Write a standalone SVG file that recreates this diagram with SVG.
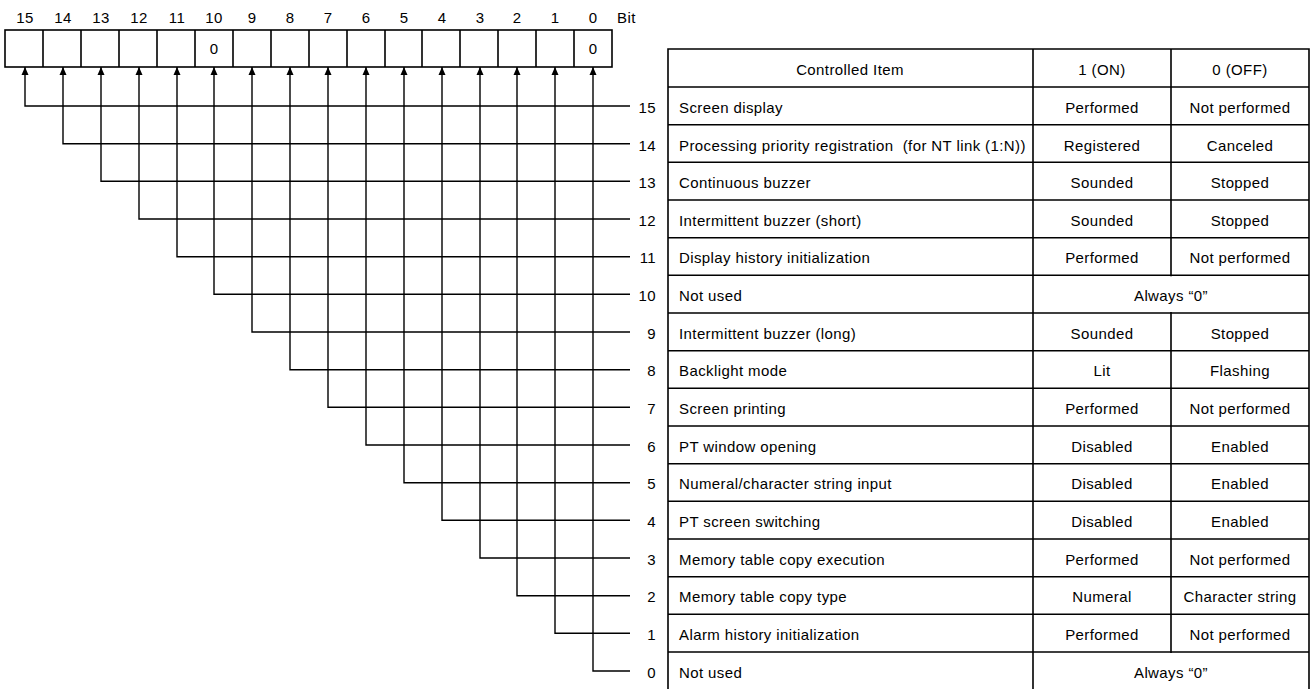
<svg xmlns="http://www.w3.org/2000/svg" width="1313" height="689" viewBox="0 0 1313 689">
<defs>
<style>
text{font-family:"Liberation Sans",Arial,sans-serif;font-size:15px;letter-spacing:0.4px;fill:#000}
.c{text-anchor:middle}
.r{text-anchor:end}
.ln{stroke:#000;stroke-width:1.4;fill:none}
.tb{stroke:#000;stroke-width:1.6;fill:none}
</style>
<marker id="ah" viewBox="0 0 8 10" refX="8" refY="5" markerWidth="8" markerHeight="10" markerUnits="userSpaceOnUse" orient="auto">
<path d="M0,1.5 L8,5 L0,8.5 Z" fill="#000"/>
</marker>
</defs>
<rect width="1313" height="689" fill="#fff"/>
<g id="register">
<rect x="5" y="30" width="607" height="37" class="tb"/>
<path class="tb" d="M43,30V67M81,30V67M119,30V67M157,30V67M195,30V67M233,30V67M271,30V67M309,30V67M347,30V67M385,30V67M422,30V67M460,30V67M498,30V67M536,30V67M574,30V67"/>
<text x="214" y="54" class="c">0</text>
<text x="593" y="54" class="c">0</text>
<g class="c">
<text x="25" y="22.5">15</text><text x="63" y="22.5">14</text><text x="101" y="22.5">13</text><text x="139" y="22.5">12</text>
<text x="177" y="22.5">11</text><text x="214" y="22.5">10</text><text x="252" y="22.5">9</text><text x="290" y="22.5">8</text>
<text x="328" y="22.5">7</text><text x="366" y="22.5">6</text><text x="404" y="22.5">5</text><text x="442" y="22.5">4</text>
<text x="480" y="22.5">3</text><text x="517" y="22.5">2</text><text x="555" y="22.5">1</text><text x="593" y="22.5">0</text>
</g>
<text x="617" y="22.5">Bit</text>
</g>
<g id="connectors">
<path class="ln" marker-end="url(#ah)" d="M630,106H25V67"/>
<path class="ln" marker-end="url(#ah)" d="M630,143.7H63V67"/>
<path class="ln" marker-end="url(#ah)" d="M630,181.3H101V67"/>
<path class="ln" marker-end="url(#ah)" d="M630,219H139V67"/>
<path class="ln" marker-end="url(#ah)" d="M630,256.7H177V67"/>
<path class="ln" marker-end="url(#ah)" d="M630,294.3H214V67"/>
<path class="ln" marker-end="url(#ah)" d="M630,332H252V67"/>
<path class="ln" marker-end="url(#ah)" d="M630,369.7H290V67"/>
<path class="ln" marker-end="url(#ah)" d="M630,407.3H328V67"/>
<path class="ln" marker-end="url(#ah)" d="M630,445H366V67"/>
<path class="ln" marker-end="url(#ah)" d="M630,482.7H404V67"/>
<path class="ln" marker-end="url(#ah)" d="M630,520.3H442V67"/>
<path class="ln" marker-end="url(#ah)" d="M630,558H480V67"/>
<path class="ln" marker-end="url(#ah)" d="M630,595.7H517V67"/>
<path class="ln" marker-end="url(#ah)" d="M630,633.3H555V67"/>
<path class="ln" marker-end="url(#ah)" d="M630,671H593V67"/>
</g>
<g id="table">
<path class="tb" d="M668,689V49H1309V689M1033,49V689M1171,49V689"/>
<path class="tb" d="M668,87H1309M668,124.7H1309M668,162.3H1309M668,200H1309M668,237.7H1309M668,275.3H1309M668,313H1309M668,350.7H1309M668,388.3H1309M668,426H1309M668,463.7H1309M668,501.3H1309M668,539H1309M668,576.7H1309M668,614.3H1309M668,652H1309"/>
<rect x="1034" y="276.3" width="274" height="35.7" fill="#fff"/>
<rect x="1034" y="653" width="274" height="36" fill="#fff"/>
<text x="850" y="74.5" class="c">Controlled Item</text>
<text x="1102" y="74.5" class="c">1 (ON)</text>
<text x="1240" y="74.5" class="c">0 (OFF)</text>
</g>
<g id="labels" class="r">
<text x="656" y="112.5">15</text><text x="656" y="150.7">14</text><text x="656" y="187.8">13</text><text x="656" y="225.5">12</text>
<text x="656" y="263.2">11</text><text x="656" y="300.8">10</text><text x="656" y="338.5">9</text><text x="656" y="376.2">8</text>
<text x="656" y="413.8">7</text><text x="656" y="451.5">6</text><text x="656" y="489.2">5</text><text x="656" y="526.8">4</text>
<text x="656" y="564.5">3</text><text x="656" y="602.2">2</text><text x="656" y="639.8">1</text><text x="656" y="677.5">0</text>
</g>
<g id="items">
<text x="679" y="112.5">Screen display</text>
<text x="679" y="150.7">Processing priority registration &#160;(for NT link (1:N))</text>
<text x="679" y="187.8">Continuous buzzer</text>
<text x="679" y="225.5">Intermittent buzzer (short)</text>
<text x="679" y="263.2">Display history initialization</text>
<text x="679" y="300.8">Not used</text>
<text x="679" y="338.5">Intermittent buzzer (long)</text>
<text x="679" y="376.2">Backlight mode</text>
<text x="679" y="413.8">Screen printing</text>
<text x="679" y="451.5">PT window opening</text>
<text x="679" y="489.2">Numeral/character string input</text>
<text x="679" y="526.8">PT screen switching</text>
<text x="679" y="564.5">Memory table copy execution</text>
<text x="679" y="602.2">Memory table copy type</text>
<text x="679" y="639.8">Alarm history initialization</text>
<text x="679" y="677.5">Not used</text>
</g>
<g id="on" class="c">
<text x="1102" y="112.5">Performed</text>
<text x="1102" y="150.7">Registered</text>
<text x="1102" y="187.8">Sounded</text>
<text x="1102" y="225.5">Sounded</text>
<text x="1102" y="263.2">Performed</text>
<text x="1102" y="338.5">Sounded</text>
<text x="1102" y="376.2">Lit</text>
<text x="1102" y="413.8">Performed</text>
<text x="1102" y="451.5">Disabled</text>
<text x="1102" y="489.2">Disabled</text>
<text x="1102" y="526.8">Disabled</text>
<text x="1102" y="564.5">Performed</text>
<text x="1102" y="602.2">Numeral</text>
<text x="1102" y="639.8">Performed</text>
</g>
<g id="off" class="c">
<text x="1240" y="112.5">Not performed</text>
<text x="1240" y="150.7">Canceled</text>
<text x="1240" y="187.8">Stopped</text>
<text x="1240" y="225.5">Stopped</text>
<text x="1240" y="263.2">Not performed</text>
<text x="1240" y="338.5">Stopped</text>
<text x="1240" y="376.2">Flashing</text>
<text x="1240" y="413.8">Not performed</text>
<text x="1240" y="451.5">Enabled</text>
<text x="1240" y="489.2">Enabled</text>
<text x="1240" y="526.8">Enabled</text>
<text x="1240" y="564.5">Not performed</text>
<text x="1240" y="602.2">Character string</text>
<text x="1240" y="639.8">Not performed</text>
</g>
<g id="always" class="c">
<text x="1171" y="300.8">Always “0”</text>
<text x="1171" y="677.5">Always “0”</text>
</g>
</svg>
